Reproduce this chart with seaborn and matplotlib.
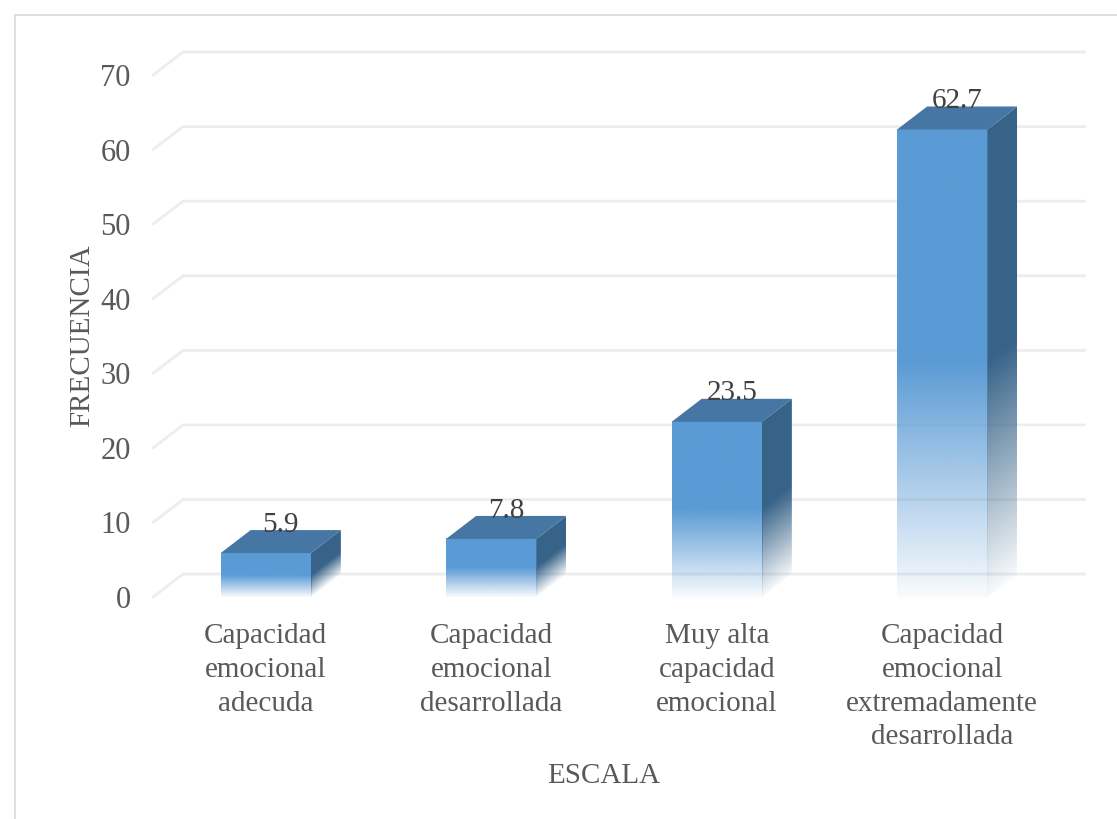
import numpy as np
import pandas as pd
import matplotlib
matplotlib.use("Agg")
import matplotlib.pyplot as plt
from matplotlib.patches import Polygon, Rectangle
import seaborn as sns

# data
categories = [
    "Capacidad\nemocional\nadecuda",
    "Capacidad\nemocional\ndesarrollada",
    "Muy alta\ncapacidad\nemocional",
    "Capacidad\nemocional\nextremadamente\ndesarrollada",
]
values = [5.9, 7.8, 23.5, 62.7]
y_ticks = [0, 10, 20, 30, 40, 50, 60, 70]

df = pd.DataFrame({"escala": categories, "frecuencia": values})

sns.set_theme(style="white")
plt.rcParams["font.family"] = ["Liberation Serif", "DejaVu Serif"]

front_col = "#5B9BD5"
top_col = "#4676A3"
side_col = "#386389"
grid_col = "#EDEDED"
text_col = "#595959"
val_col = "#404040"

fig = plt.figure(figsize=(11.17, 8.19), dpi=100)
ax = fig.add_axes([0.137, 0.271, 0.8075, 0.6374])

sns.barplot(data=df, x="escala", y="frecuencia", ax=ax, width=0.4,
            color=front_col, saturation=1, zorder=2)

ax.set_xlim(-0.5, 3.5)
ax.set_ylim(0, 70)

# depth of the 3D effect (in data units)
dx = 0.133
dy = 3.08

# back wall gridlines with the short diagonal floor part
for t in y_ticks:
    ax.plot([-0.5, -0.5 + dx, 3.5 + dx], [t, t + dy, t + dy],
            color=grid_col, lw=2, zorder=0, clip_on=False)


def fade(t):
    # solid on top half, fading to white on the bottom half
    return np.clip(0.04 + 0.96 * (t / 0.5), 0, 1)


rgb_front = matplotlib.colors.to_rgb(front_col)
rgb_side = matplotlib.colors.to_rgb(side_col)

for p, v in zip(list(ax.patches), values):
    x0 = p.get_x()
    w = p.get_width()
    h = p.get_height()
    p.set_facecolor("none")
    p.set_edgecolor("none")

    # front face gradient
    ny = 200
    tt = np.linspace(0, 1, ny)[:, None]
    img = np.zeros((ny, 2, 4))
    img[..., :3] = rgb_front
    img[..., 3] = fade(tt)
    ax.imshow(img, extent=[x0, x0 + w, 0, h], origin="lower", aspect="auto",
              interpolation="bilinear", zorder=2)

    # side face, gradient follows the slanted bottom
    side = Polygon([(x0 + w, 0), (x0 + w + dx, dy), (x0 + w + dx, h + dy), (x0 + w, h)],
                   closed=True, facecolor="none", edgecolor="none", zorder=2)
    ax.add_patch(side)
    nx = 60
    xs = np.linspace(0, 1, nx)[None, :]
    ys = np.linspace(0, h + dy, ny)[:, None]
    local = (ys - xs * dy) / h
    simg = np.zeros((ny, nx, 4))
    simg[..., :3] = rgb_side
    simg[..., 3] = fade(local)
    im = ax.imshow(simg, extent=[x0 + w, x0 + w + dx, 0, h + dy], origin="lower",
                   aspect="auto", interpolation="bilinear", zorder=2)
    im.set_clip_path(side)

    # top face
    ax.add_patch(Polygon([(x0, h), (x0 + w, h), (x0 + w + dx, h + dy), (x0 + dx, h + dy)],
                         closed=True, facecolor=top_col, edgecolor="none",
                         zorder=3, clip_on=False))

    ax.text(x0 + w / 2 + dx / 2, v + 3.8, f"{v}", ha="center", va="center",
            fontsize=21, color=val_col, zorder=4, clip_on=False)

ax.set_xlim(-0.5, 3.5)
ax.set_ylim(0, 70)
ax.set_yticks(y_ticks)
ax.tick_params(axis="y", labelsize=22, colors=text_col, length=0, pad=16)
ax.tick_params(axis="x", labelsize=21, colors=text_col, length=0, pad=19)
for lab in ax.get_xticklabels():
    lab.set_linespacing(1.38)
for s in ax.spines.values():
    s.set_visible(False)
ax.set_facecolor("none")

ax.set_xlabel("ESCALA", fontsize=21, color=text_col, labelpad=9)
ax.set_ylabel("FRECUENCIA", fontsize=21, color=text_col, labelpad=4)

# light chart border
fig.add_artist(Rectangle((15 / 1117, -0.02), 1.0, 1 - 15 / 819 + 0.02,
                         transform=fig.transFigure, fill=False,
                         edgecolor="#D9D9D9", lw=1.2))

fig.savefig("out.png", dpi=100)
